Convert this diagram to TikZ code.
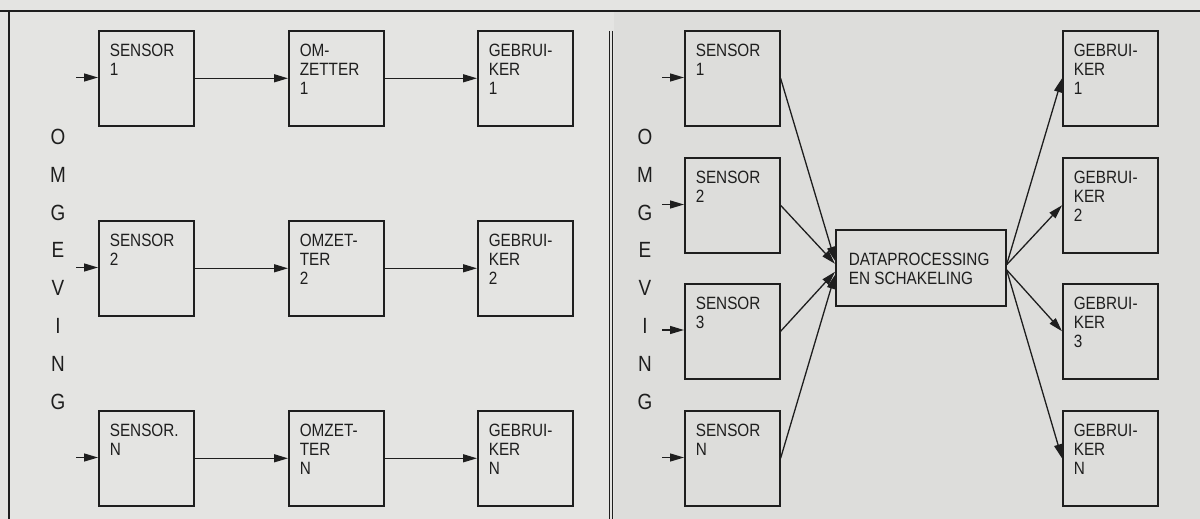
\documentclass[tikz,border=0pt]{standalone}
\usepackage{fontspec}
\setmainfont{Liberation Sans}
\newfontfamily\dinfont[FakeStretch=0.86]{Liberation Sans}
\usetikzlibrary{arrows.meta}
\definecolor{paper}{RGB}{228,228,226}
\definecolor{paperR}{RGB}{221,221,219}
\definecolor{ink}{RGB}{30,30,30}
\newcommand\bt[1]{\parbox[c][95pt][t]{73pt}{\fontsize{17.8}{18.7}\selectfont\raggedright\rule{0pt}{26pt}#1}}
\newcommand\dpt[1]{\parbox[c][76pt][t]{144pt}{\fontsize{17.8}{19}\selectfont\raggedright\rule{0pt}{36pt}#1}}
\begin{document}
\begin{tikzpicture}[x=1pt,y=-1pt,
  box/.style={draw=ink, line width=1.6pt, inner xsep=11pt, inner ysep=0pt, anchor=north west, font=\dinfont, text=ink},
  dpbox/.style={draw=ink, line width=1.6pt, inner xsep=13pt, inner ysep=0pt, anchor=north west, font=\dinfont, text=ink},
  conn/.style={draw=ink, line width=1.3pt, -{Triangle[length=14pt,width=8pt]}},
  frame/.style={draw=ink, line width=1.8pt},
  letter/.style={font=\dinfont\fontsize{22}{22}\selectfont, text=ink, inner sep=0pt}]
\useasboundingbox (0,0) rectangle (1200,519);
\fill[paper] (0,0) rectangle (1200,519);
\fill[paperR] (614,12) rectangle (1200,519);
% frame
\draw[frame] (0,11) -- (1200,11);
\draw[frame] (9,11) -- (9,519);
\draw[ink, line width=1.2pt] (609.5,31) -- (609.5,519);
\draw[ink, line width=1.2pt] (612.5,31) -- (612.5,519);
% OMGEVING letters
\foreach \l [count=\i from 0] in {O,M,G,E,V,I,N,G} {
  \node[letter] (lo\i) at (58,{137+37.8*\i}) {\l};
  \node[letter] (ro\i) at (645,{137+37.8*\i}) {\l};
}
% left panel
\node[box] (s1) at (98,30)  {\bt{SENSOR\\1}};
\node[box] (o1) at (288,30) {\bt{OM-\\ZETTER\\1}};
\node[box] (g1) at (477,30) {\bt{GEBRUI-\\KER\\1}};
\node[box] (s2) at (98,220)  {\bt{SENSOR\\2}};
\node[box] (o2) at (288,220) {\bt{OMZET-\\TER\\2}};
\node[box] (g2) at (477,220) {\bt{GEBRUI-\\KER\\2}};
\node[box] (sn) at (98,410)  {\bt{SENSOR.\\N}};
\node[box] (on) at (288,410) {\bt{OMZET-\\TER\\N}};
\node[box] (gn) at (477,410) {\bt{GEBRUI-\\KER\\N}};
\foreach \r/\y in {1/77.5,2/267.5,n/457.5} {
  \coordinate (in\r) at (76,\y);
  \draw[conn] (in\r) -- (in\r -| s\r.west);
  \draw[conn] (s\r.east) -- (o\r.west);
  \draw[conn] (o\r.east) -- (g\r.west);
}
% right panel
\node[box] (rs1) at (684,30)  {\bt{SENSOR\\1}};
\node[box] (rs2) at (684,157) {\bt{SENSOR\\2}};
\node[box] (rs3) at (684,283) {\bt{SENSOR\\3}};
\node[box] (rsn) at (684,410) {\bt{SENSOR\\N}};
\node[box] (rg1) at (1062,30)  {\bt{GEBRUI-\\KER\\1}};
\node[box] (rg2) at (1062,157) {\bt{GEBRUI-\\KER\\2}};
\node[box] (rg3) at (1062,283) {\bt{GEBRUI-\\KER\\3}};
\node[box] (rgn) at (1062,410) {\bt{GEBRUI-\\KER\\N}};
\node[dpbox] (dp) at (835,229) {\dpt{DATAPROCESSING\\EN SCHAKELING}};
\foreach \r/\y in {1/77.5,2/204.5,3/330,n/457.5} {
  \coordinate (rin\r) at (662,\y);
  \draw[conn] (rin\r) -- (rin\r -| rs\r.west);
}
\draw[conn] (rs1.east) -- ([yshift=7pt]dp.west);
\draw[conn] (rs2.east) -- ([yshift=4pt]dp.west);
\draw[conn] (rs3.east) -- ([yshift=-4pt]dp.west);
\draw[conn] (rsn.east) -- ([yshift=-7pt]dp.west);
\draw[conn] ([yshift=3pt]dp.east) -- (rg1.west);
\draw[conn] ([yshift=3pt]dp.east) -- (rg2.west);
\draw[conn] ([yshift=-2pt]dp.east) -- (rg3.west);
\draw[conn] ([yshift=-2pt]dp.east) -- (rgn.west);
\end{tikzpicture}
\end{document}
